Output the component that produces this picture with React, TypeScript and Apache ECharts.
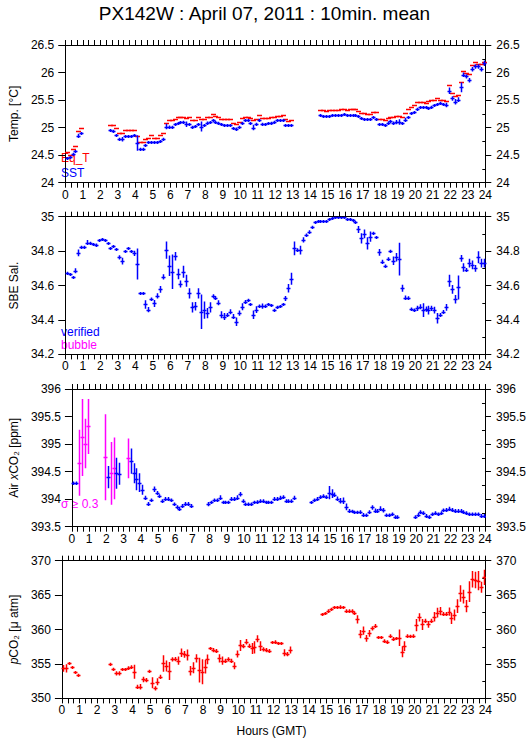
import React, { useEffect, useRef } from 'react';
import * as echarts from 'echarts';

// ---------- DATA (10-minute means, index i -> hour i/6 + 1/12) ----------
const sstValues: (number | null)[] = [
  24.45, 24.47, 24.53, 24.58, 24.85, 24.90, null, null, null, null, null, null,
  null, null, null, 24.96, 24.94, 24.87, 24.80, 24.79, 24.85, 24.85, 24.85, 24.86,
  24.72, 24.62, 24.62, 24.68, 24.73, 24.74, 24.73, 24.73, 24.76, 24.80, 25.02, 25.02,
  25.02, 25.06, 25.08, 25.10, 25.11, 25.06, 25.06, 25.02, 25.03, 25.07, 25.02, 25.05,
  25.08, 25.10, 25.14, 25.11, 25.09, 25.07, 25.05, 25.04, 25.04, 24.99, 24.97, 25.02,
  25.09, 25.13, 25.13, 25.08, 25.00, 25.06, 25.14, 25.06, 25.06, 25.08, 25.09, 25.11,
  25.14, 25.14, 25.13, 25.05, 25.04, 25.05, null, null, null, null, null, null,
  null, null, null, 25.23, 25.22, 25.22, 25.22, 25.23, 25.23, 25.23, 25.23, 25.24,
  25.23, 25.23, 25.23, 25.23, 25.21, 25.17, 25.16, 25.16, 25.16, 25.19, 25.15, 25.06,
  25.06, 25.04, 25.08, 25.12, 25.08, 25.10, 25.10, 25.08, 25.14, 25.19, 25.26, 25.28,
  25.34, 25.37, 25.37, 25.37, 25.36, 25.38, 25.41, 25.43, 25.45, 25.43, 25.41, 25.67,
  25.53, 25.47, 25.51, 25.73, 25.96, 25.93, 25.86, 26.06, 26.11, 26.11, 26.06, 26.17,
];
const sstErr: number[] = [
  .015, .015, .015, .015, .04, .02, 0, 0, 0, 0, 0, 0,
  0, 0, 0, .015, .02, .015, .015, .04, .015, .015, .015, .015,
  .14, .015, .015, .02, .015, .015, .015, .015, .015, .015, .05, .02,
  .015, .015, .015, .015, .015, .05, .015, .015, .015, .015, .09, .015,
  .03, .015, .015, .015, .015, .015, .015, .015, .015, .02, .03, .015,
  .015, .015, .015, .015, .05, .03, .02, .03, .015, .015, .015, .015,
  .015, .015, .015, .015, .015, .015, 0, 0, 0, 0, 0, 0,
  0, 0, 0, .01, .01, .01, .01, .01, .01, .01, .01, .01,
  .01, .01, .01, .01, .02, .02, .015, .015, .015, .02, .015, .02,
  .015, .015, .03, .015, .03, .04, .05, .02, .04, .015, .015, .02,
  .02, .015, .015, .015, .015, .015, .015, .015, .02, .015, .04, .06,
  .04, .05, .04, .09, .04, .04, .04, .04, .04, .04, .04, .05,
];
const eqTValues: (number | null)[] = [
  24.55, 24.51, 24.62, 24.67, 24.94, 25.00, null, null, null, null, null, null,
  null, null, null, 25.04, 25.04, 24.99, 24.90, 24.90, 24.96, 24.96, 24.96, 24.96,
  24.84, 24.73, 24.73, 24.79, 24.82, 24.86, 24.82, 24.82, 24.86, 24.90, 25.08, 25.14,
  25.13, 25.16, 25.19, 25.19, 25.20, 25.17, 25.19, 25.13, 25.14, 25.19, 25.15, 25.15,
  25.19, 25.20, 25.24, 25.21, 25.20, 25.15, 25.15, 25.15, 25.15, 25.09, 25.07, 25.11,
  25.18, 25.20, 25.20, 25.17, 25.14, 25.15, 25.23, 25.17, 25.17, 25.18, 25.19, 25.19,
  25.21, 25.22, 25.23, 25.15, 25.12, 25.14, null, null, null, null, null, null,
  null, null, null, 25.32, 25.32, 25.31, 25.32, 25.32, 25.32, 25.32, 25.33, 25.33,
  25.32, 25.33, 25.33, 25.33, 25.30, 25.26, 25.27, 25.24, 25.24, 25.28, 25.28, 25.15,
  25.15, 25.13, 25.17, 25.20, 25.19, 25.21, 25.21, 25.19, 25.27, 25.33, 25.37, 25.41,
  25.47, 25.46, 25.46, 25.45, 25.48, 25.51, 25.51, 25.53, 25.51, 25.50, 25.49, 25.77,
  25.62, 25.58, 25.60, 25.82, 26.02, 26.00, 25.97, 26.14, 26.20, 26.16, 26.15, 26.20,
];
const salValues: (number | null)[] = [
  34.675, 34.667, 34.65, 34.686, 34.79, 34.826, 34.826, 34.85, 34.85, 34.84, 34.835, 34.865,
  34.868, 34.865, 34.845, 34.816, 34.83, 34.81, 34.764, 34.742, 34.80, 34.816, 34.80, 34.787,
  34.725, 34.555, 34.555, 34.49, 34.46, 34.52, 34.496, 34.54, 34.578, 34.65, 34.806, 34.715,
  34.68, 34.77, 34.667, 34.609, 34.68, 34.628, 34.555, 34.473, 34.48, 34.555, 34.448, 34.457,
  34.44, 34.473, 34.54, 34.53, 34.50, 34.43, 34.42, 34.43, 34.448, 34.42, 34.39, 34.44,
  34.477, 34.506, 34.516, 34.49, 34.43, 34.46, 34.48, 34.48, 34.48, 34.49, 34.486, 34.46,
  34.477, 34.48, 34.49, 34.525, 34.584, 34.64, 34.816, 34.806, 34.806, 34.865, 34.893, 34.913,
  34.938, 34.97, 34.975, 34.977, 34.977, 34.977, 34.985, 34.99, 34.996, 34.996, 34.996, 34.996,
  34.986, 34.986, 34.98, 34.967, 34.926, 34.874, 34.90, 34.845, 34.884, 34.903, 34.88, 34.793,
  34.738, 34.715, 34.754, 34.80, 34.744, 34.764, 34.754, 34.584, 34.53, 34.53, 34.463, 34.457,
  34.467, 34.477, 34.457, 34.463, 34.457, 34.467, 34.457, 34.41, 34.43, 34.448, 34.473, 34.628,
  34.578, 34.52, 34.589, 34.758, 34.705, 34.69, 34.73, 34.72, 34.70, 34.764, 34.73, 34.73,
];
const salErr: number[] = [
  .005, .005, .005, .015, .02, .005, .005, .015, .005, .005, .01, .005,
  .005, .005, .005, .005, .005, .005, .012, .02, .005, .005, .005, .015,
  .09, .005, .005, .025, .015, .01, .02, .015, .02, .015, .05, .06,
  .1, .025, .03, .02, .035, .035, .03, .03, .025, .03, .1, .05,
  .03, .03, .01, .01, .015, .02, .02, .01, .015, .015, .025, .015,
  .02, .01, .008, .008, .025, .02, .01, .015, .01, .005, .005, .005,
  .005, .005, .005, .015, .025, .035, .04, .01, .025, .015, .01, .008,
  .01, .005, .003, .003, .003, .003, .003, .003, .003, .003, .003, .003,
  .003, .003, .003, .005, .02, .03, .025, .035, .03, .01, .005, .02,
  .012, .008, .01, .008, .025, .025, .095, .02, .012, .008, .01, .01,
  .015, .015, .04, .015, .025, .015, .02, .03, .01, .01, .02, .035,
  .025, .025, .07, .02, .025, .012, .025, .025, .02, .035, .025, .025,
];
const airValues: (number | null)[] = [
  394.29, 394.29, 394.66, 395.12, 395.01, 395.32, null, null, null, null, null, 394.76,
  394.40, 394.47, 394.56, 394.47, 394.46, null, null, 394.74, 394.69, 394.47, 394.36, 394.30,
  394.17, 394.03, 393.92, 393.98, 394.18, 394.12, 394.06, 393.97, 394.01, 394.01, 393.98, 393.91,
  393.86, 393.83, 393.88, 393.92, 393.92, 393.88, null, null, null, null, null, 393.91,
  393.94, 393.98, 393.98, 394.03, 393.94, 393.94, 393.94, 394.01, 394.01, 394.03, 394.09, 393.97,
  393.91, 393.91, 393.91, 393.94, 393.95, 393.97, 393.97, 393.94, 393.94, 393.94, 394.01, 394.01,
  394.03, 394.04, 393.97, 393.97, 393.97, 394.03, null, null, null, null, null, 393.94,
  393.98, 394.01, 394.04, 394.06, 394.04, 394.12, 394.10, 394.08, 394.01, 393.97, 393.97, 393.86,
  393.79, 393.78, 393.76, 393.76, 393.77, 393.72, 393.71, 393.77, 393.85, 393.79, 393.79, 393.83,
  393.80, 393.71, 393.71, 393.73, 393.68, 393.68, null, null, null, null, null, 393.68,
  393.72, 393.77, 393.75, 393.70, 393.68, 393.73, 393.75, 393.73, 393.75, 393.80, 393.81, 393.83,
  393.81, 393.79, 393.79, 393.79, 393.77, 393.75, 393.73, 393.73, 393.73, 393.73, 393.70, 393.70,
];
const airErr: number[] = [
  .03, .03, .6, .7, .45, .5, 0, 0, 0, 0, 0, .78,
  .2, .57, .56, .28, .2, 0, 0, .36, .23, .18, .2, .17,
  .09, .03, .03, .03, .05, .03, .03, .03, .03, .03, .03, .03,
  .03, .03, .03, .03, .03, .03, 0, 0, 0, 0, 0, .04,
  .03, .03, .03, .04, .03, .03, .03, .03, .03, .04, .04, .03,
  .03, .03, .03, .03, .03, .03, .03, .03, .03, .03, .03, .03,
  .03, .03, .03, .03, .03, .03, 0, 0, 0, 0, 0, .02,
  .03, .03, .03, .03, .03, .12, .08, .04, .04, .05, .06, .06,
  .03, .03, .03, .03, .03, .03, .03, .03, .04, .04, .03, .04,
  .04, .03, .03, .03, .03, .03, 0, 0, 0, 0, 0, .03,
  .03, .03, .03, .03, .03, .03, .03, .03, .03, .03, .03, .03,
  .03, .03, .03, .03, .03, .03, .03, .03, .03, .03, .03, .03,
];
const pco2Values: (number | null)[] = [
  354.36, 354.36, 355.08, 354.50, 353.78, 353.39, null, null, null, null, null, null,
  null, null, null, null, 354.99, 354.26, 353.63, 353.63, 354.21, 354.21, 354.46, 354.60,
  353.87, 351.69, 351.69, 352.76, 352.66, 353.97, 352.28, 351.45, 352.42, 353.15, 355.08, 354.70,
  353.97, 355.67, 355.71, 355.47, 356.63, 356.39, 356.30, 354.02, 354.46, 355.81, 354.12, 353.87,
  354.60, 355.67, 357.26, 357.02, 356.88, 355.81, 355.47, 355.47, 355.67, 355.47, 354.75, 356.44,
  357.70, 357.60, 358.23, 357.65, 357.26, 357.41, 358.67, 357.60, 357.12, 357.02, 356.88, 358.14,
  358.23, 357.99, 357.99, 356.63, 356.44, 357.02, null, null, null, null, null, null,
  null, null, null, null, 362.20, 362.35, 362.74, 362.98, 363.22, 363.22, 363.32, 363.22,
  362.74, 362.74, 362.74, 362.45, 361.48, 359.35, 359.83, 358.72, 359.44, 360.17, 360.51, 358.86,
  358.86, 358.38, 358.23, 359.10, 358.62, 358.72, 358.81, 356.78, 357.60, 359.10, 359.06, 359.10,
  360.65, 361.77, 360.75, 361.28, 360.75, 361.28, 361.86, 362.45, 362.69, 362.25, 362.25, 362.59,
  361.62, 362.11, 363.41, 365.25, 364.77, 363.41, 365.50, 367.29, 367.19, 367.10, 366.13, 367.58,
];
const pco2Err: number[] = [
  .5, .6, .2, .2, .2, .2, 0, 0, 0, 0, 0, 0,
  0, 0, 0, 0, .2, .2, .3, .3, .2, .2, .2, .2,
  1.0, .3, .4, .4, .3, .2, .8, .3, .5, .3, 1.2, .8,
  1.3, .3, .3, .6, .6, .5, .8, .7, .8, .6, 1.8, 1.8,
  1.0, .7, .2, .3, .3, .6, .6, .3, .3, .3, .5, .5,
  .8, .3, .4, .3, .8, .9, .5, .7, .3, .3, .3, .2,
  .2, .2, .2, .5, .3, .5, 0, 0, 0, 0, 0, 0,
  0, 0, 0, 0, .2, .2, .2, .2, .2, .2, .2, .2,
  .2, .2, .2, .2, .6, .6, .6, .5, .5, .3, .3, .2,
  .2, .2, .2, .2, .3, .2, 1.2, .8, .7, .2, .2, .2,
  .9, .6, .8, .3, .5, .3, .7, .7, .6, .3, .3, .6,
  .8, .8, 1.0, 1.2, 1.0, .9, 1.5, 1.2, 1.2, 1.4, .8, 1.1,
];

const TITLE = 'PX142W : April 07, 2011 : 10min. mean';
const X_NAME = 'Hours (GMT)';
const SIGMA_LIMIT = 0.3;

// ---------- STYLE ----------
const FONT = '"Liberation Sans", Arial, sans-serif';
const BLUE = '#0000ff';
const RED = '#ff0000';
const MAGENTA = '#ff00ff';
const GRID_TOPS = [45, 216.7, 389, 560.7];
const GRID_H = 137.7;
const GRID_LEFT = 58.3;
const GRID_W = 427;

const panelAxes = [
  { min: 24, max: 26.5, interval: 0.5, name: '{n|Temp. [°C]}', nameGap: 36 },
  { min: 34.2, max: 35, interval: 0.2, name: '{n|SBE Sal.}', nameGap: 38 },
  { min: 393.5, max: 396, interval: 0.5, name: '{n|Air }{i|x}{n|CO₂ [ppm]}', nameGap: 41 },
  { min: 350, max: 370, interval: 5, name: '{i|p}{n|CO₂ [μ atm]}', nameGap: 32 },
];

function toPoints(vals: (number | null)[], errs: number[]) {
  const out: number[][] = [];
  vals.forEach((v, i) => {
    if (v !== null) out.push([i / 6 + 1 / 12, v, errs[i]]);
  });
  return out;
}

function makeRender(colorFn: (e: number) => string, halfPx: number, bars: boolean, lw: number) {
  return (_params: any, api: any) => {
    const t = api.value(0);
    const v = api.value(1);
    const e = api.value(2);
    const c = api.coord([t, v]);
    const col = colorFn(e);
    const cx = Math.round(c[0]) + 0.5;
    const cy = Math.round(c[1]) + 0.5;
    const children: any[] = [
      {
        type: 'line',
        shape: { x1: cx - halfPx, y1: cy, x2: cx + halfPx, y2: cy },
        style: { stroke: col, lineWidth: lw },
      },
    ];
    if (bars && e > 0) {
      const top = api.coord([t, v + e]);
      const bot = api.coord([t, v - e]);
      children.push({
        type: 'line',
        shape: { x1: cx, y1: Math.min(top[1], cy - 1.5), x2: cx, y2: Math.max(bot[1], cy + 1.5) },
        style: { stroke: col, lineWidth: lw },
      });
    }
    return { type: 'group', children };
  };
}

export default function App() {
  const ref = useRef<HTMLDivElement>(null);
  useEffect(() => {
    if (!ref.current) return;
    const chart = echarts.init(ref.current, undefined, { renderer: 'svg' });

    const grids = GRID_TOPS.map((top) => ({ left: GRID_LEFT, top, width: GRID_W, height: GRID_H }));
    const xAxes: any[] = [];
    const yAxes: any[] = [];
    const labelStyle = { fontFamily: FONT, fontSize: 12, color: '#000' };
    GRID_TOPS.forEach((_, g) => {
      const base = {
        gridIndex: g, type: 'value', min: 0, max: 24, interval: 1,
        axisLine: { show: true, onZero: false, lineStyle: { color: '#000', width: 1 } },
        axisTick: { show: true, length: 5, lineStyle: { color: '#000' } },
        minorTick: { show: true, splitNumber: 3, length: 5, lineStyle: { color: '#000' } },
        splitLine: { show: false },
      };
      xAxes.push({ ...base, position: 'bottom', axisLabel: { ...labelStyle, margin: 6 } });
      xAxes.push({ ...base, position: 'top', axisLabel: { show: false } });
      const p = panelAxes[g];
      const yBase = {
        gridIndex: g, type: 'value', min: p.min, max: p.max, interval: p.interval,
        axisLine: { show: true, onZero: false, lineStyle: { color: '#000', width: 1 } },
        splitLine: { show: false },
      };
      yAxes.push({
        ...yBase, position: 'left',
        axisTick: { show: true, length: 7, lineStyle: { color: '#000' } },
        axisLabel: { ...labelStyle, margin: 11 },
        name: p.name, nameLocation: 'middle', nameRotate: 90, nameGap: p.nameGap,
        nameTextStyle: {
          fontFamily: FONT, fontSize: 12, color: '#000',
          rich: {
            n: { fontFamily: FONT, fontSize: 12, color: '#000' },
            i: { fontFamily: FONT, fontSize: 12, color: '#000', fontStyle: 'italic' },
          },
        },
      });
      yAxes.push({
        ...yBase, position: 'right',
        axisTick: { show: true, length: 6, lineStyle: { color: '#000' } },
        axisLabel: { ...labelStyle, margin: 11 },
      });
      yAxes.push({
        ...yBase, position: 'right',
        axisLine: { show: false, onZero: false },
        axisTick: { show: false, inside: true },
        minorTick: { show: true, splitNumber: 2, length: 3, lineStyle: { color: '#000' } },
        axisLabel: { show: false },
      });
    });

    const custom = (g: number, data: number[][], render: any) => ({
      type: 'custom', xAxisIndex: 2 * g, yAxisIndex: 3 * g, data, renderItem: render,
      encode: { x: 0, y: 1 }, silent: true, clip: true,
    });

    const series = [
      custom(0, toPoints(eqTValues, sstErr.map(() => 0)), makeRender(() => RED, 2.5, false, 1.5)),
      custom(0, toPoints(sstValues, sstErr), makeRender(() => BLUE, 2, true, 1.5)),
      custom(1, toPoints(salValues, salErr), makeRender(() => BLUE, 2, true, 1.5)),
      custom(2, toPoints(airValues, airErr), makeRender((e) => (e >= SIGMA_LIMIT ? MAGENTA : BLUE), 2, true, 1.5)),
      custom(3, toPoints(pco2Values, pco2Err), makeRender(() => RED, 2, true, 1.5)),
    ];

    const txt = (x: number, y: number, text: string, fill: string, size = 12, align = 'left') => ({
      type: 'text', x, y, silent: true,
      style: { text, fill, fontFamily: FONT, fontSize: size, align, verticalAlign: 'middle' },
    });

    chart.setOption({
      animation: false,
      backgroundColor: '#fff',
      grid: grids,
      xAxis: xAxes,
      yAxis: yAxes,
      series,
      graphic: [
        txt(264.5, 13, TITLE, '#000', 19, 'center'),
        txt(271.5, 731, X_NAME, '#000', 12, 'center'),
        txt(61, 158, 'Eq_T', RED),
        txt(61, 172.7, 'SST', BLUE),
        txt(61, 332, 'verified', BLUE),
        txt(61, 345, 'bubble', MAGENTA),
        txt(61, 504, 'σ ≥ 0.3', MAGENTA),
      ],
    });
    return () => chart.dispose();
  }, []);
  return (
    <div
      ref={ref}
      style={{ position: 'fixed', left: 0, top: 0, width: 529, height: 739, background: '#fff' }}
    />
  );
}
